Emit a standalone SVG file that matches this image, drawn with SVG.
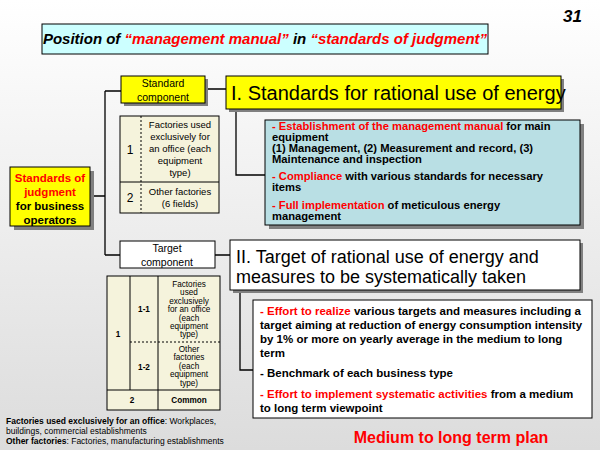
<svg xmlns="http://www.w3.org/2000/svg" width="600" height="450" viewBox="0 0 600 450">
<defs>
<linearGradient id="bg" x1="0" y1="0" x2="0" y2="1"><stop offset="0" stop-color="#ffffff"/><stop offset="0.25" stop-color="#f6f6f6"/><stop offset="1" stop-color="#dcdcdc"/></linearGradient>
</defs>
<style>
text{font-family:"Liberation Sans",Arial,sans-serif;fill:#000}
.b{font-weight:bold}.r{fill:#ff0000}
.box{stroke:#000;stroke-width:1}
.sh{fill:#808080}
.ln{fill:none;stroke:#000;stroke-width:1.3}
.tb{fill:#f5f3dc;stroke:#000;stroke-width:1}
.th{font-size:8.2px}
</style>
<rect width="600" height="450" fill="url(#bg)"/>
<g id="title">
<rect x="42" y="24" width="446" height="30" fill="#ccffff" class="box"/>
<text x="265" y="44" text-anchor="middle" font-size="15" font-weight="bold" font-style="italic">Position of <tspan class="r">“management manual”</tspan> in <tspan class="r">“standards of judgment”</tspan></text>
<text x="582" y="22" text-anchor="end" font-size="17" font-weight="bold" font-style="italic">31</text>
</g>
<g id="connectors">
<path class="ln" d="M90 196H105M105 91V255M105 91H121M105 255H120M205 89H226M236 109V175H265M215 255H230M240 290V370H253"/>
</g>
<g id="judgment">
<rect x="14" y="171" width="80" height="59" class="sh"/>
<rect x="10" y="167" width="80" height="59" fill="#ffff00" class="box" stroke-width="1.5"/>
<text x="50" y="182" text-anchor="middle" font-size="11.5" class="b"><tspan class="r">Standards of</tspan><tspan x="50" dy="14" class="r">judgment</tspan><tspan x="50" dy="14">for business</tspan><tspan x="50" dy="14">operators</tspan></text>
</g>
<g id="standard-component">
<rect x="124" y="79" width="84" height="27" class="sh"/>
<rect x="121" y="76" width="84" height="27" fill="#ffff00" class="box"/>
<text x="163" y="87" text-anchor="middle" font-size="10.5"><tspan>Standard</tspan><tspan x="163" dy="14">component</tspan></text>
</g>
<g id="standards-I">
<rect x="229" y="79" width="335" height="33" class="sh"/>
<rect x="226" y="76" width="335" height="33" fill="#ffff00" class="box" stroke-width="1.5"/>
<text x="231" y="100" font-size="20">I. Standards for rational use of energy</text>
</g>
<g id="table1">
<rect x="120" y="116" width="99" height="97" class="tb"/>
<line x1="120" y1="182" x2="219" y2="182" stroke="#000"/>
<line x1="141" y1="116" x2="141" y2="213" stroke="#000" stroke-dasharray="2,2"/>
<text x="130" y="154" text-anchor="middle" font-size="12">1</text>
<text x="130" y="202" text-anchor="middle" font-size="12">2</text>
<text x="180" y="128" text-anchor="middle" font-size="9.5"><tspan>Factories used</tspan><tspan x="180" dy="12">exclusively for</tspan><tspan x="180" dy="12">an office (each</tspan><tspan x="180" dy="12">equipment</tspan><tspan x="180" dy="12">type)</tspan></text>
<text x="180" y="195" text-anchor="middle" font-size="9.5"><tspan>Other factories</tspan><tspan x="180" dy="12">(6 fields)</tspan></text>
</g>
<g id="teal">
<rect x="269" y="124" width="315" height="105" class="sh"/>
<rect x="265" y="120" width="315" height="105" fill="#b9dfe4" class="box"/>
<text font-size="11.2" class="b"><tspan x="272" y="130"><tspan class="r">- Establishment of the management manual</tspan> for main</tspan><tspan x="272" y="141">equipment</tspan><tspan x="272" y="152">(1) Management, (2) Measurement and record, (3)</tspan><tspan x="272" y="163">Maintenance and inspection</tspan><tspan x="272" y="180"><tspan class="r">- Compliance</tspan> with various standards for necessary</tspan><tspan x="272" y="191">items</tspan><tspan x="272" y="209"><tspan class="r">- Full implementation</tspan> of meticulous energy</tspan><tspan x="272" y="220">management</tspan></text>
</g>
<g id="target-component">
<rect x="120" y="241" width="95" height="27" fill="#ffffff" class="box"/>
<text x="167" y="252" text-anchor="middle" font-size="10.5"><tspan>Target</tspan><tspan x="167" dy="14">component</tspan></text>
</g>
<g id="target-II">
<rect x="233" y="243" width="350" height="50" class="sh"/>
<rect x="230" y="240" width="350" height="50" fill="#ffffff" class="box" stroke-width="1.3"/>
<text font-size="18"><tspan x="236" y="263">II. Target of rational use of energy and</tspan><tspan x="236" y="283">measures to be systematically taken</tspan></text>
</g>
<g id="table2">
<rect x="107" y="276" width="113" height="134" class="tb"/>
<path d="M130 276V390M158 276V410M107 390H220" stroke="#000" fill="none"/>
<line x1="130" y1="342" x2="220" y2="342" stroke="#000" stroke-dasharray="2,2"/>
<text x="118" y="337" text-anchor="middle" class="th b">1</text>
<text x="144" y="312" text-anchor="middle" class="th b">1-1</text>
<text x="144" y="370" text-anchor="middle" class="th b">1-2</text>
<text x="132" y="403" text-anchor="middle" class="th b">2</text>
<text x="189" y="403" text-anchor="middle" class="th b">Common</text>
<text x="189" y="287" text-anchor="middle" class="th"><tspan>Factories</tspan><tspan x="189" dy="8.4">used</tspan><tspan x="189" dy="8.4">exclusively</tspan><tspan x="189" dy="8.4">for an office</tspan><tspan x="189" dy="8.4">(each</tspan><tspan x="189" dy="8.4">equipment</tspan><tspan x="189" dy="8.4">type)</tspan></text>
<text x="189" y="352" text-anchor="middle" class="th"><tspan>Other</tspan><tspan x="189" dy="8.4">factories</tspan><tspan x="189" dy="8.4">(each</tspan><tspan x="189" dy="8.4">equipment</tspan><tspan x="189" dy="8.4">type)</tspan></text>
</g>
<g id="bullets">
<rect x="253" y="300" width="339" height="118" fill="#ffffff" class="box"/>
<text font-size="11.5" class="b"><tspan x="260" y="315"><tspan class="r">- Effort to realize</tspan> various targets and measures including a</tspan><tspan x="260" y="329">target aiming at reduction of energy consumption intensity</tspan><tspan x="260" y="343">by 1% or more on yearly average in the medium to long</tspan><tspan x="260" y="357">term</tspan><tspan x="260" y="377">- Benchmark of each business type</tspan><tspan x="260" y="398"><tspan class="r">- Effort to implement systematic activities</tspan> from a medium</tspan><tspan x="260" y="412">to long term viewpoint</tspan></text>
</g>
<g id="notes">
<text font-size="8.5"><tspan x="6" y="424"><tspan class="b">Factories used exclusively for an office</tspan>: Workplaces,</tspan><tspan x="6" y="434">buildings, commercial establishments</tspan><tspan x="6" y="444"><tspan class="b">Other factories</tspan>: Factories, manufacturing establishments</tspan></text>
<text x="451" y="443" text-anchor="middle" font-size="16" class="b r">Medium to long term plan</text>
</g>
</svg>
